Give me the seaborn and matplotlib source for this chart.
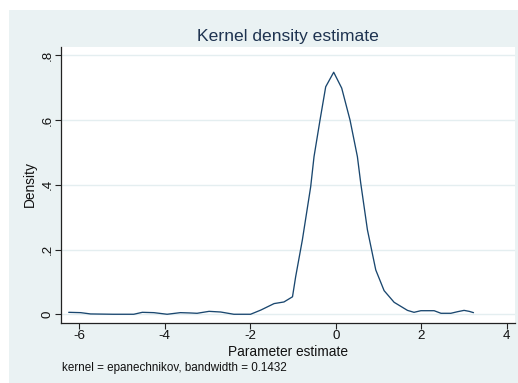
import matplotlib
matplotlib.use("Agg")
import matplotlib.pyplot as plt
from matplotlib.patches import Rectangle
import seaborn as sns
import pandas as pd

# ---- data ----
x_vals = [-6.24, -5.96, -5.73, -5.20, -4.72, -4.52, -4.25, -3.94, -3.63, -3.40,
          -3.24, -2.96, -2.69, -2.38, -1.99, -1.75, -1.44, -1.21, -1.01, -0.936,
          -0.779, -0.585, -0.507, -0.367, -0.234, -0.047, 0.140, 0.335, 0.507, 0.585,
          0.741, 0.936, 1.131, 1.365, 1.677, 1.83, 1.99, 2.30, 2.46, 2.69,
          2.85, 3.00, 3.12, 3.22]
density = [0.006, 0.005, 0.001, 0.000, 0.000, 0.006, 0.005, 0.000, 0.005, 0.004,
           0.003, 0.009, 0.007, 0.000, 0.000, 0.013, 0.033, 0.038, 0.054, 0.116,
           0.230, 0.394, 0.487, 0.600, 0.703, 0.748, 0.699, 0.600, 0.487, 0.405,
           0.261, 0.137, 0.073, 0.037, 0.012, 0.006, 0.011, 0.011, 0.003, 0.003,
           0.008, 0.012, 0.009, 0.005]
x_ticks = [-6, -4, -2, 0, 2, 4]
y_ticks = [0, 0.2, 0.4, 0.6, 0.8]
y_tick_labels = ["0", ".2", ".4", ".6", ".8"]
title = "Kernel density estimate"
x_label = "Parameter estimate"
y_label = "Density"
note = "kernel = epanechnikov, bandwidth = 0.1432"

df = pd.DataFrame({"x": x_vals, "density": density})

sns.set_style("white")
plt.rcParams["font.family"] = ["Liberation Sans", "DejaVu Sans"]

W, H = 518, 383
fig = plt.figure(figsize=(W / 100, H / 100), dpi=100, facecolor="white")
bg = "#eaf2f3"
fig.patches.append(Rectangle((9 / W, 0), 1 - 9 / W, 1 - 10 / H,
                             transform=fig.transFigure, facecolor=bg,
                             edgecolor="none", zorder=-10))

ax = fig.add_axes([61 / W, 1 - 323 / H, (515 - 61) / W, (323 - 47) / H])
ax.set_zorder(2)
ax.set_facecolor("white")

sns.lineplot(data=df, x="x", y="density", ax=ax, color="#1a476f",
             linewidth=0.95, zorder=3)

ax.set_xlim(-6.42, 4.19)
ax.set_ylim(-0.027, 0.826)
ax.set_xticks(x_ticks)
ax.set_xticklabels([str(t) for t in x_ticks])
ax.set_yticks(y_ticks)
ax.set_yticklabels(y_tick_labels, rotation=90, va="center")
ax.grid(axis="y", color="#e4eef0", linewidth=1.0, zorder=1)
ax.grid(axis="x", visible=False)
ax.set_xlabel("")
ax.set_ylabel("")

for s in ["top", "right"]:
    ax.spines[s].set_visible(False)
for s in ["left", "bottom"]:
    ax.spines[s].set_color("#222222")
    ax.spines[s].set_linewidth(0.9)

ax.tick_params(axis="both", direction="out", length=4.3, width=0.8,
               color="#222222", labelsize=9.6, labelcolor="#111111")
ax.tick_params(axis="x", pad=0.5)
ax.tick_params(axis="y", pad=1.0)
ax.xaxis.set_ticks_position("bottom")
ax.yaxis.set_ticks_position("left")

fig.text(288 / W, 1 - 40.7 / H, title, ha="center", va="baseline",
         fontsize=12.6, color="#1e3350")
fig.text(288 / W, 1 - 356 / H, x_label, ha="center", va="baseline",
         fontsize=9.9, color="#111111")
fig.text(29.5 / W, 1 - 184 / H, y_label, ha="center", va="center",
         rotation=90, fontsize=9.9, color="#111111")
fig.text(62.5 / W, 1 - 370.5 / H, note, ha="left", va="baseline",
         fontsize=8.4, color="#111111")

fig.savefig("out.png", dpi=100, facecolor="white")
